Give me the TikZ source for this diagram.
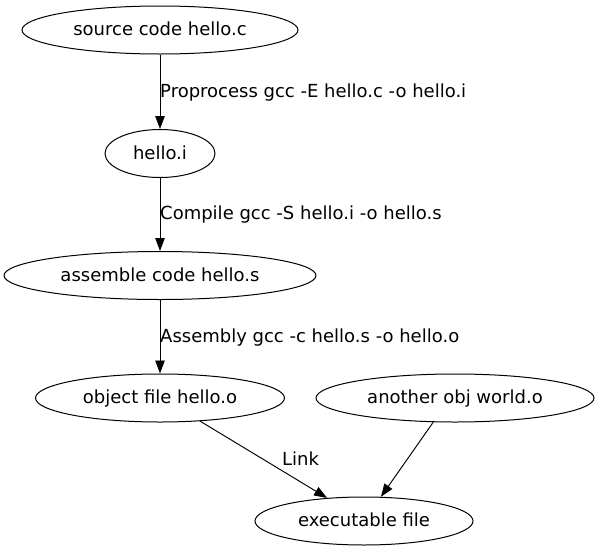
\documentclass[tikz,border=0pt]{standalone}
\usepackage{fontspec}
\setmainfont{DejaVu Sans}
\usetikzlibrary{shapes.geometric,arrows.meta}
\begin{document}
\begin{tikzpicture}[x=1pt,y=-1pt,
  every node/.style={font=\fontsize{18pt}{21pt}\selectfont, text height=13.5pt, text depth=2.5pt},
  gnode/.style={ellipse, draw, line width=1pt, inner sep=0pt, minimum height=48pt},
  edge/.style={draw, line width=0.95pt, -{Triangle[length=13pt,width=9.5pt]}},
  elabel/.style={anchor=west, inner sep=0pt}]
\useasboundingbox (0,0) rectangle (600,552);
\node[gnode, minimum width=276pt] (src) at (160,30) {source code hello.c};
\node[gnode, minimum width=110pt] (hi) at (160,153.5) {hello.i};
\node[gnode, minimum width=312pt] (hs) at (160,275.5) {assemble code hello.s};
\node[gnode, minimum width=249pt] (obj) at (160,398) {object file hello.o};
\node[gnode, minimum width=278pt] (ano) at (455,398) {another obj world.o};
\node[gnode, minimum width=218pt] (exe) at (364,521) {executable file};
\draw[edge] (src) -- (hi);
\draw[edge] (hi) -- (hs);
\draw[edge] (hs) -- (obj);
\draw[edge] (obj.-30.5) -- (exe.148.1);
\draw[edge] (ano.228.8) -- (exe.55.2);
\node[elabel] (l1) at (160,91.5) {Proprocess gcc -E hello.c -o hello.i};
\node[elabel] (l2) at (160,214) {Compile gcc -S hello.i -o hello.s};
\node[elabel] (l3) at (160,337) {Assembly gcc -c hello.s -o hello.o};
\node[inner sep=0pt] (l4) at (300.5,459.5) {Link};
\end{tikzpicture}
\end{document}
